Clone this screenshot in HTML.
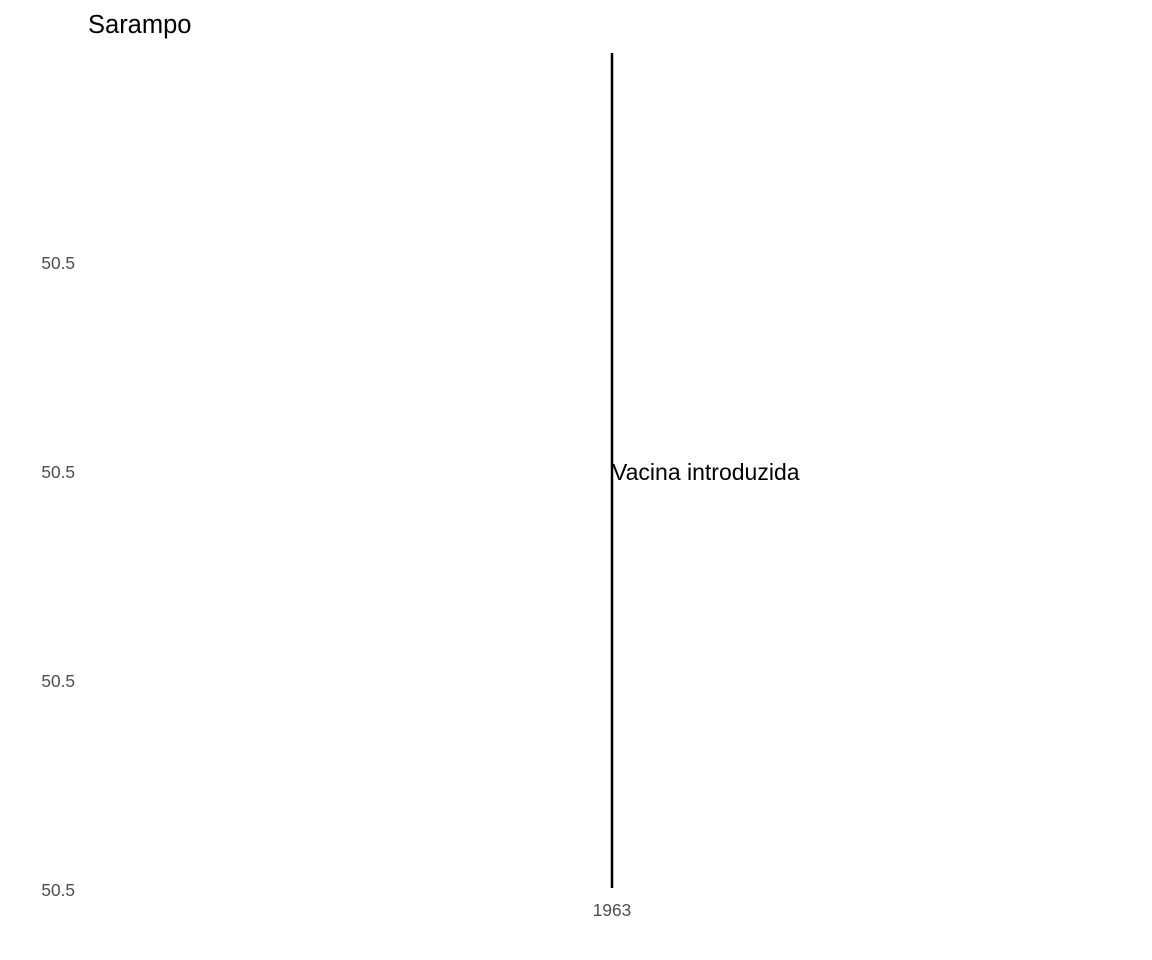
<!DOCTYPE html>
<html>
<head>
<meta charset="utf-8">
<style>
  html, body { margin: 0; padding: 0; background: #ffffff; }
  body { width: 1152px; height: 960px; overflow: hidden; }
  svg { display: block; font-family: "Liberation Sans", Arial, sans-serif; }
</style>
</head>
<body>
<svg id="chart" width="1152" height="960" viewBox="0 0 1152 960" xmlns="http://www.w3.org/2000/svg">
  <text x="88" y="33" font-size="25.5" fill="#000000">Sarampo</text>
  <g id="y-axis"></g>
  <g id="x-axis"></g>
  <g id="marks"></g>
</svg>
<script>
// Chart data
const yTickValues = [0, 1, 2, 3];
const yTickLabels = ["50.5", "50.5", "50.5", "50.5"];
const xTickValues = [1963];
const xTickLabels = ["1963"];
const vaccineYears = [1963];
const vaccineLabels = ["Vacina introduzida"];
const labelYValues = [2];

const NS = "http://www.w3.org/2000/svg";
const plot = { left: 88, right: 1136, top: 53, bottom: 890 };
const xDomain = [1900, 2026];
const yDomain = [0, 4];
function xScale(v) { return 612 + (v - 1963) * ((plot.right - plot.left) / (xDomain[1] - xDomain[0])); }
function yScale(v) { return plot.bottom - (v - yDomain[0]) * (890 - 263) / 3; }

function mk(tag, attrs, parent) {
  const el = document.createElementNS(NS, tag);
  for (const k in attrs) el.setAttribute(k, attrs[k]);
  parent.appendChild(el);
  return el;
}

const yAxis = document.getElementById("y-axis");
yTickValues.forEach((v, i) => {
  const t = mk("text", { x: 75, y: yScale(v) + 6, "text-anchor": "end", "font-size": "17.3", fill: "#4d4d4d" }, yAxis);
  
  
  t.textContent = yTickLabels[i];
});

const xAxis = document.getElementById("x-axis");
xTickValues.forEach((v, i) => {
  const t = mk("text", { x: xScale(v), y: 916, "text-anchor": "middle", "font-size": "17.3", fill: "#4d4d4d" }, xAxis);
  
  
  t.textContent = xTickLabels[i];
});

const marks = document.getElementById("marks");
vaccineYears.forEach((yr, i) => {
  const ln = mk("line", { x1: xScale(yr), x2: xScale(yr), y1: plot.top, y2: 888, stroke: "#000000", "stroke-width": "2.5" }, marks);
  
  
  const t = mk("text", { x: xScale(yr), y: yScale(labelYValues[i]) + 8, "font-size": "23", fill: "#000000" }, marks);
  
  
  t.textContent = vaccineLabels[i];
});
</script>
</body>
</html>
